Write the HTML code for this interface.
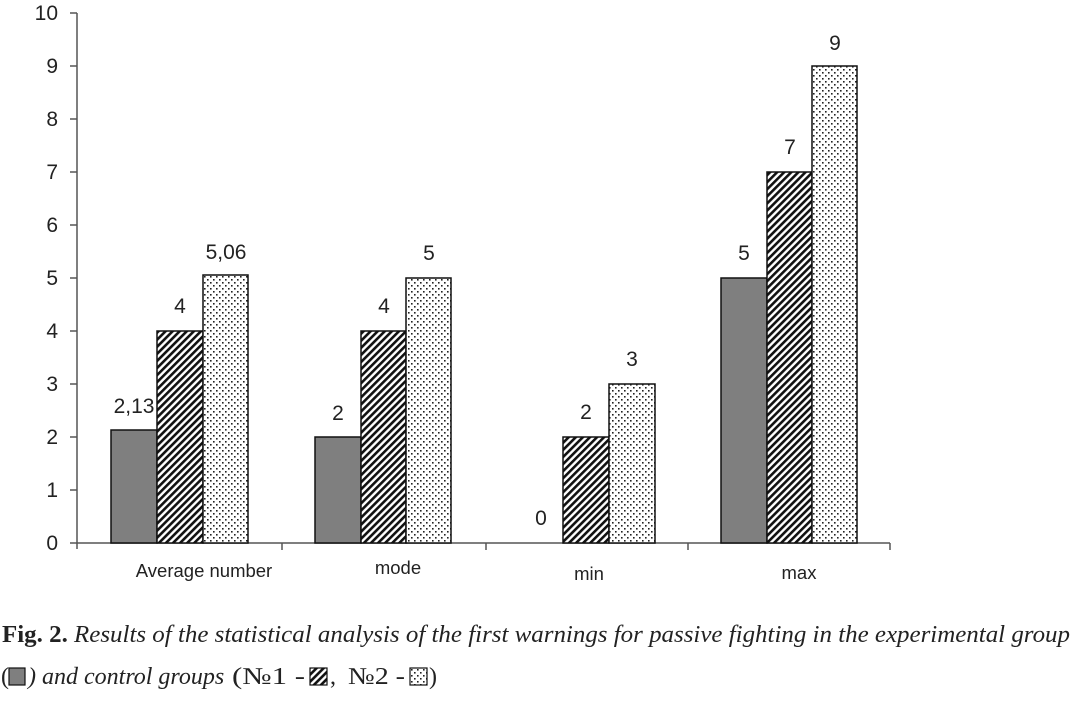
<!DOCTYPE html>
<html><head><meta charset="utf-8"><style>html,body{margin:0;padding:0;background:#fff}</style></head>
<body>
<svg width="1077" height="696" viewBox="0 0 1077 696" xmlns="http://www.w3.org/2000/svg">
<defs>
<pattern id="h" width="5" height="5" patternUnits="userSpaceOnUse" patternTransform="rotate(45)">
<rect width="5" height="5" fill="#fff"/><rect width="2.6" height="5" fill="#111"/></pattern>
<pattern id="d" width="6" height="6" patternUnits="userSpaceOnUse">
<rect width="6" height="6" fill="#fff"/><rect x="0" y="0" width="1.6" height="1.6" fill="#222"/><rect x="3" y="3" width="1.6" height="1.6" fill="#222"/></pattern>
</defs>
<g font-family="Liberation Sans, sans-serif" font-size="21" fill="#222" text-anchor="end">
<text x="58" y="20">10</text><text x="58" y="73">9</text><text x="58" y="126">8</text><text x="58" y="179">7</text><text x="58" y="232">6</text><text x="58" y="285">5</text><text x="58" y="338">4</text><text x="58" y="391">3</text><text x="58" y="444">2</text><text x="58" y="497">1</text><text x="58" y="550">0</text>
</g>
<g stroke="#555" stroke-width="1.5">
<line x1="77" y1="13" x2="77" y2="549"/>
<line x1="70" y1="13" x2="77" y2="13"/><line x1="70" y1="66" x2="77" y2="66"/><line x1="70" y1="119" x2="77" y2="119"/><line x1="70" y1="172" x2="77" y2="172"/><line x1="70" y1="225" x2="77" y2="225"/><line x1="70" y1="278" x2="77" y2="278"/><line x1="70" y1="331" x2="77" y2="331"/><line x1="70" y1="384" x2="77" y2="384"/><line x1="70" y1="437" x2="77" y2="437"/><line x1="70" y1="490" x2="77" y2="490"/><line x1="70" y1="543" x2="77" y2="543"/>
<line x1="77" y1="543" x2="890" y2="543"/>
<line x1="282" y1="543" x2="282" y2="550"/><line x1="486" y1="543" x2="486" y2="550"/><line x1="688" y1="543" x2="688" y2="550"/><line x1="890" y1="543" x2="890" y2="550"/>
</g>
<g stroke="#111" stroke-width="1.5">
<rect x="111" y="430" width="46" height="113" fill="#7f7f7f"/>
<rect x="157" y="331" width="46" height="212" fill="url(#h)"/>
<rect x="203" y="275" width="45" height="268" fill="url(#d)"/>
<rect x="315" y="437" width="46" height="106" fill="#7f7f7f"/>
<rect x="361" y="331" width="45" height="212" fill="url(#h)"/>
<rect x="406" y="278" width="45" height="265" fill="url(#d)"/>
<rect x="563" y="437" width="46" height="106" fill="url(#h)"/>
<rect x="609" y="384" width="46" height="159" fill="url(#d)"/>
<rect x="721" y="278" width="46" height="265" fill="#7f7f7f"/>
<rect x="767" y="172" width="45" height="371" fill="url(#h)"/>
<rect x="812" y="66" width="45" height="477" fill="url(#d)"/>
</g>
<g font-family="Liberation Sans, sans-serif" font-size="21" fill="#222" text-anchor="middle">
<text x="134" y="413">2,13</text><text x="180" y="313">4</text><text x="226" y="259">5,06</text>
<text x="338" y="420">2</text><text x="384" y="313">4</text><text x="429" y="260">5</text>
<text x="541" y="525">0</text><text x="586" y="419">2</text><text x="632" y="366">3</text>
<text x="744" y="260">5</text><text x="790" y="154">7</text><text x="835" y="50">9</text>
</g>
<g font-family="Liberation Sans, sans-serif" font-size="18.5" fill="#222" text-anchor="middle">
<text x="204" y="577">Average number</text><text x="398" y="574">mode</text><text x="589" y="580">min</text><text x="799" y="579">max</text>
</g>
<text x="2" y="642" font-family="Liberation Serif, serif" font-size="24" fill="#222" textLength="1068" lengthAdjust="spacingAndGlyphs"><tspan font-weight="bold" font-style="normal">Fig. 2.</tspan><tspan font-style="italic"> Results of the statistical analysis of the first warnings for passive fighting in the experimental group</tspan></text>
<g font-family="Liberation Serif, serif" font-size="24" fill="#222">
<text x="1" y="684">(</text>
<text x="28" y="684" font-style="italic">) and control groups</text>
<text x="232" y="684" textLength="73" lengthAdjust="spacingAndGlyphs">(№1 -</text>
<text x="330" y="684">,</text>
<text x="348" y="684" textLength="57" lengthAdjust="spacingAndGlyphs">№2 -</text>
<text x="429" y="684">)</text>
</g>
<rect x="9" y="668" width="16" height="17" fill="#7f7f7f" stroke="#111" stroke-width="1.2"/>
<rect x="310" y="668" width="17" height="17" fill="url(#h)" stroke="#111" stroke-width="1.2"/>
<rect x="410" y="668" width="17" height="17" fill="url(#d)" stroke="#111" stroke-width="1.2"/>
</svg>
</body></html>
